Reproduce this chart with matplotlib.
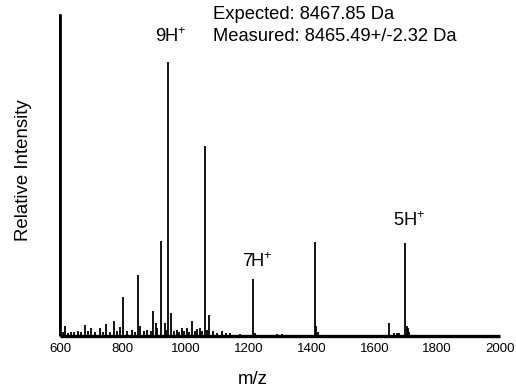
import matplotlib
matplotlib.use("Agg")
import matplotlib.pyplot as plt

plt.rcParams['font.family'] = ['Liberation Sans', 'DejaVu Sans']
plt.rcParams['mathtext.fontset'] = 'custom'
plt.rcParams['mathtext.rm'] = 'Liberation Sans'

# main peaks (m/z, relative intensity)
peak_mz = [600, 802, 848, 897, 920, 943, 954, 1020, 1060, 1075, 1213, 1411, 1647, 1699]
peak_int = [1.00, 0.12, 0.19, 0.078, 0.295, 0.85, 0.07, 0.045, 0.59, 0.065, 0.177, 0.293, 0.04, 0.29]

# small noise / shoulder peaks
noise_mz = [610, 617, 625, 634, 645, 657, 668, 679, 690, 700, 712, 727, 736, 745,
            758, 771, 780, 790, 812, 828, 838, 855, 866, 876, 888, 904, 910, 934,
            938, 962, 971, 980, 987, 995, 1003, 1010, 1028, 1035, 1046, 1052, 1068,
            1086, 1098, 1115, 1128, 1142, 1174, 1222, 1291, 1307,
            1416, 1420, 1662, 1672, 1680, 1703, 1708, 1712]
noise_int = [0.012, 0.031, 0.01, 0.013, 0.011, 0.016, 0.012, 0.033, 0.014, 0.024,
             0.012, 0.024, 0.013, 0.036, 0.012, 0.045, 0.015, 0.027, 0.014, 0.019,
             0.013, 0.031, 0.014, 0.019, 0.016, 0.041, 0.025, 0.039, 0.02, 0.015,
             0.019, 0.013, 0.024, 0.014, 0.024, 0.013, 0.016, 0.021, 0.024, 0.015,
             0.02, 0.017, 0.01, 0.017, 0.009, 0.008, 0.006, 0.01, 0.005, 0.005,
             0.03, 0.012, 0.01, 0.01, 0.01, 0.03, 0.025, 0.012]

mz_range = [600, 2000]

ions = ['9H$^{+}$', '7H$^{+}$', '5H$^{+}$']
ion_x = [953, 1229, 1711]
ion_y = [0.914, 0.215, 0.342]

fig = plt.figure(figsize=(5.16, 3.92), dpi=100)
ax = fig.add_axes([0.1163, 0.1429, 0.8527, 0.8214])

ax.plot(mz_range, [0, 0], color='black', lw=2.4, clip_on=False, solid_capstyle='butt')
ax.vlines(noise_mz, 0, noise_int, color='black', lw=1.3, clip_on=False)
ax.vlines(peak_mz, 0, peak_int, color='black', lw=1.3, clip_on=False)
ax.vlines(peak_mz[0], 0, peak_int[0], color='black', lw=2.0, clip_on=False)

for lab, x, y in zip(ions, ion_x, ion_y):
    ax.text(x, y, lab, ha='center', va='baseline', fontsize=13.2)

ax.text(1088, 0.984, 'Expected: 8467.85 Da', ha='left', va='baseline', fontsize=13.2)
ax.text(1088, 0.917, 'Measured: 8465.49+/-2.32 Da', ha='left', va='baseline', fontsize=13.2)

ax.set_xlim(mz_range)
ax.set_ylim(0, 1.0)
ax.set_xticks([600, 800, 1000, 1200, 1400, 1600, 1800, 2000])
ax.tick_params(axis='x', length=0, pad=5, labelsize=9.5)
ax.set_yticks([])
for s in ax.spines.values():
    s.set_visible(False)

ax.set_xlabel('m/z', fontsize=13.4)
ax.xaxis.set_label_coords(0.439, -0.108)
ax.set_ylabel('Relative Intensity', fontsize=13.4)
ax.yaxis.set_label_coords(-0.064, 0.515)

fig.savefig('out.png', dpi=100)
